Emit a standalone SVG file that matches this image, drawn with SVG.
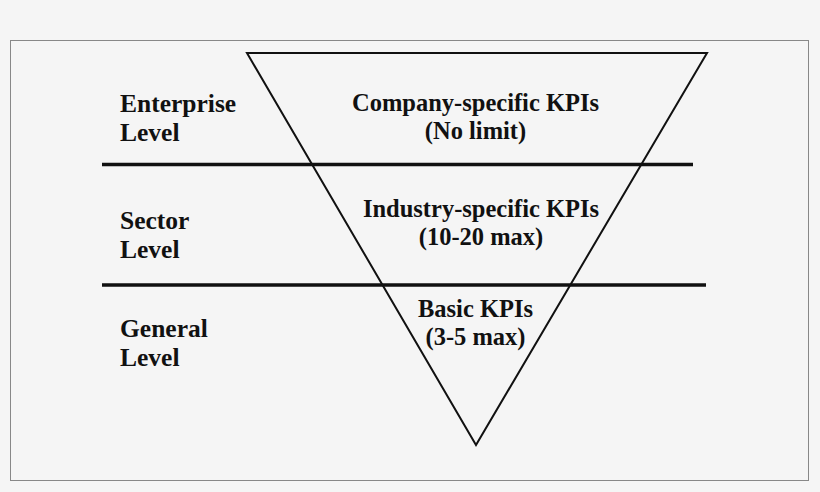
<svg xmlns="http://www.w3.org/2000/svg" width="820" height="492" viewBox="0 0 820 492">
<style>
text{font-family:"Liberation Serif","Times New Roman",serif;font-weight:bold;font-size:24.5px;fill:#111}
.l{font-size:25.5px}
.c{text-anchor:middle}
.div{stroke:#111;stroke-width:3.5}
.tri{fill:none;stroke:#111;stroke-width:2;stroke-linejoin:miter}
</style>
<rect x="0" y="0" width="820" height="492" fill="#f5f5f5"/>
<rect x="10.5" y="40.5" width="798" height="440" fill="#f5f5f5" stroke="#888" stroke-width="1"/>
<g id="connectors">
<line class="div" x1="102" y1="164.5" x2="693" y2="164.5"/>
<line class="div" x1="102" y1="285" x2="706" y2="285"/>
</g>
<g id="pyramid">
<polygon class="tri" points="247,53 707,53 476,445"/>
</g>
<g id="enterprise-level">
<text class="l" x="120" y="112">Enterprise</text>
<text class="l" x="120" y="141">Level</text>
</g>
<g id="sector-level">
<text class="l" x="120" y="229">Sector</text>
<text class="l" x="120" y="258">Level</text>
</g>
<g id="general-level">
<text class="l" x="120" y="337">General</text>
<text class="l" x="120" y="366">Level</text>
</g>
<g id="company-kpis">
<text class="c" x="475.5" y="111">Company-specific KPIs</text>
<text class="c" x="475.5" y="139">(No limit)</text>
</g>
<g id="industry-kpis">
<text class="c" x="481" y="217">Industry-specific KPIs</text>
<text class="c" x="481" y="245">(10-20 max)</text>
</g>
<g id="basic-kpis">
<text class="c" x="475.5" y="317">Basic KPIs</text>
<text class="c" x="475.5" y="345">(3-5 max)</text>
</g>
</svg>
